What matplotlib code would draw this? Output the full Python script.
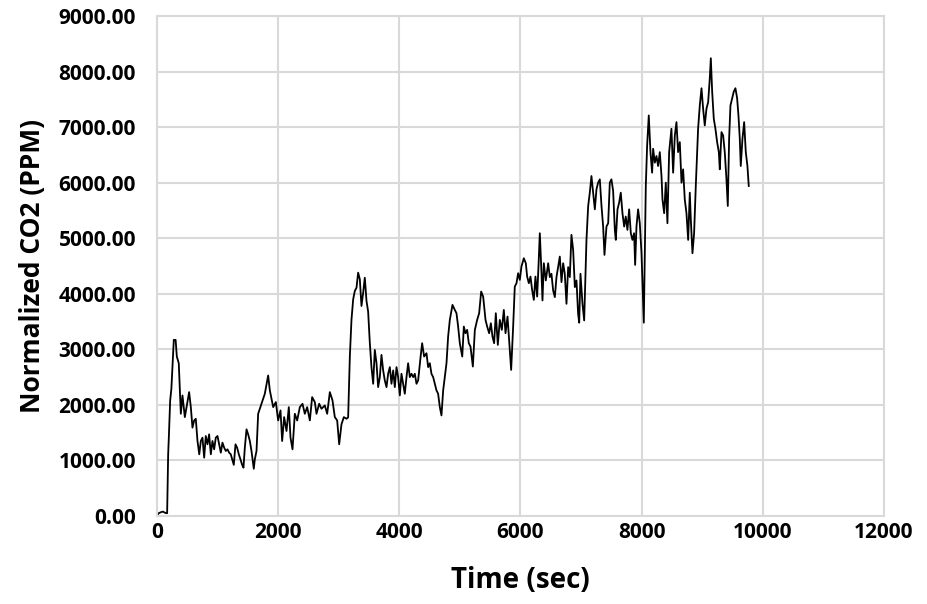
import matplotlib
matplotlib.use("Agg")
import matplotlib.pyplot as plt
from matplotlib.ticker import FormatStrFormatter

# time (sec) and normalized CO2 (PPM)
time_sec = [
    0, 30, 60, 100, 140, 170, 187, 200, 220, 240, 260, 280, 310, 330, 362, 396,
    423, 462, 500, 533, 561, 588, 616, 643, 671, 700, 726, 753, 781, 808, 836,
    863, 891, 918, 946, 973, 1001, 1028, 1056, 1083, 1111, 1138, 1166, 1193,
    1220, 1270, 1298, 1325, 1353, 1380, 1408, 1430, 1452, 1480, 1507, 1535,
    1562, 1600, 1617, 1645, 1672, 1727, 1782, 1837, 1865, 1920, 1964, 2002,
    2041, 2068, 2101, 2140, 2178, 2206, 2239, 2277, 2316, 2360, 2404, 2442,
    2481, 2525, 2563, 2607, 2635, 2679, 2717, 2772, 2811, 2855, 2899, 2937,
    2976, 3009, 3047, 3086, 3130, 3157, 3185, 3212, 3240, 3267, 3295, 3322,
    3350, 3377, 3405, 3432, 3460, 3487, 3515, 3542, 3570, 3597, 3625, 3652,
    3680, 3707, 3735, 3762, 3790, 3817, 3845, 3872, 3900, 3927, 3955, 3982,
    4010, 4037, 4065, 4092, 4120, 4147, 4175, 4202, 4230, 4257, 4285, 4312,
    4356, 4378, 4411, 4450, 4477, 4505, 4532, 4560, 4587, 4615, 4642, 4670,
    4697, 4725, 4780, 4807, 4835, 4879, 4917, 4945, 4972, 5000, 5040, 5066,
    5093, 5121, 5148, 5176, 5215, 5248, 5286, 5319, 5352, 5385, 5424, 5451,
    5484, 5512, 5539, 5566, 5594, 5627, 5660, 5693, 5726, 5754, 5787, 5814,
    5847, 5880, 5907, 5935, 5962, 5990, 6017, 6056, 6089, 6111, 6139, 6166,
    6193, 6221, 6248, 6276, 6298, 6320, 6348, 6364, 6386, 6419, 6458, 6485,
    6512, 6540, 6568, 6595, 6622, 6650, 6678, 6705, 6732, 6760, 6788, 6815,
    6842, 6870, 6898, 6925, 6952, 6970, 6991, 7024, 7052, 7090, 7118, 7145,
    7172, 7200, 7228, 7255, 7282, 7310, 7338, 7365, 7387, 7420, 7448, 7475,
    7502, 7530, 7558, 7574, 7602, 7629, 7656, 7684, 7712, 7738, 7766, 7794,
    7822, 7848, 7876, 7893, 7915, 7942, 7970, 7998, 8036, 8069, 8091, 8118,
    8146, 8173, 8190, 8218, 8245, 8272, 8300, 8328, 8344, 8372, 8399, 8426,
    8454, 8492, 8520, 8548, 8575, 8602, 8630, 8658, 8685, 8712, 8740, 8768,
    8795, 8812, 8839, 8866, 8894, 8932, 8960, 8988, 9015, 9042, 9070, 9098,
    9125, 9142, 9164, 9191, 9218, 9246, 9274, 9290, 9318, 9345, 9372, 9400,
    9422, 9444, 9466, 9494, 9521, 9548, 9576, 9598, 9620, 9636, 9664, 9692,
    9719, 9746, 9768,
]
co2_ppm = [
    0, 50, 65, 80, 55, 50, 1110, 1470, 2080, 2290, 2750, 3170, 3170, 2870,
    2750, 1840, 2170, 1780, 2020, 2230, 1960, 1590, 1720, 1750, 1350, 1110,
    1350, 1410, 1050, 1440, 1290, 1470, 1110, 1350, 1200, 1410, 1440, 1290,
    1140, 1320, 1230, 1170, 1200, 1140, 1110, 920, 1290, 1230, 1110, 1020,
    920, 870, 1230, 1560, 1470, 1350, 1170, 850, 1020, 1170, 1840, 2020, 2200,
    2530, 2260, 1960, 2050, 1720, 1900, 1350, 1780, 1530, 1960, 1410, 1200,
    1840, 1720, 1960, 2020, 1840, 1960, 1720, 2140, 2050, 1840, 2020, 1930,
    1990, 1840, 2230, 2080, 1780, 1720, 1290, 1650, 1780, 1750, 1775, 2870,
    3530, 3900, 4050, 4110, 4380, 4260, 3780, 4020, 4290, 3870, 3680, 3110,
    2680, 2380, 2990, 2750, 2320, 2500, 2900, 2620, 2440, 2320, 2560, 2680,
    2380, 2620, 2320, 2680, 2500, 2170, 2560, 2380, 2200, 2500, 2750, 2500,
    2560, 2500, 2560, 2380, 2440, 2900, 3110, 2870, 2930, 2680, 2750, 2560,
    2500, 2380, 2260, 2200, 1960, 1810, 2260, 2750, 3230, 3530, 3800, 3710,
    3650, 3410, 3110, 2870, 3410, 3290, 3350, 3110, 3050, 2690, 3350, 3530,
    3650, 4040, 3950, 3530, 3410, 3290, 3470, 3230, 3110, 3650, 3080, 3530,
    3350, 3710, 3290, 3590, 3170, 2630, 3410, 4130, 4190, 4370, 4250, 4490,
    4640, 4550, 4310, 4190, 4310, 4070, 3890, 4310, 3950, 4490, 5090, 4360,
    3880, 4550, 4240, 4550, 4300, 4360, 4060, 3940, 4300, 4480, 4670, 4210,
    4550, 4360, 3820, 4480, 4300, 5060, 4790, 4120, 4240, 3640, 3480, 4360,
    3820, 3520, 4970, 5580, 5820, 6120, 5820, 5520, 5880, 6000, 6060, 5580,
    5210, 4700, 5210, 5270, 6000, 6060, 5850, 5150, 4970, 5520, 5640, 5820,
    5450, 5210, 5390, 5150, 5520, 5090, 4970, 5090, 4520, 5210, 5520, 5270,
    4730, 3480, 5940, 6670, 7210, 6550, 6180, 6610, 6360, 6480, 6300, 6550,
    6120, 5700, 5450, 6000, 5270, 6550, 6970, 6180, 6850, 7090, 6550, 6730,
    6000, 6240, 5700, 5450, 4970, 5820, 5330, 4730, 5090, 5940, 6970, 7390,
    7700, 7330, 7030, 7330, 7450, 7880, 8240, 7640, 7150, 6970, 6730, 6550,
    6240, 6910, 6850, 6550, 6060, 5580, 6790, 7390, 7520, 7640, 7700, 7520,
    7210, 6790, 6300, 6790, 7090, 6550, 6300, 5940,
]

x_ticks = [0, 2000, 4000, 6000, 8000, 10000, 12000]
y_ticks = [0, 1000, 2000, 3000, 4000, 5000, 6000, 7000, 8000, 9000]

plt.rcParams['font.family'] = ['Open Sans', 'DejaVu Sans']

fig = plt.figure(figsize=(9.28, 6.04), dpi=100)
ax = fig.add_axes([0.169, 0.1457, 0.7836, 0.8278])

ax.plot(time_sec, co2_ppm, color='black', linewidth=1.3)

ax.set_xlim(0, 12000)
ax.set_ylim(0, 9000)
ax.set_xticks(x_ticks)
ax.set_yticks(y_ticks)
ax.yaxis.set_major_formatter(FormatStrFormatter('%.2f'))

ax.grid(True, color='#d9d9d9', linewidth=1.5)
ax.set_axisbelow(True)
for s in ax.spines.values():
    s.set_color('#d9d9d9')
    s.set_linewidth(1.5)
ax.tick_params(axis='y', length=0, labelsize=15, pad=15)
ax.tick_params(axis='x', length=0, labelsize=15, pad=4)
for lab in ax.get_xticklabels() + ax.get_yticklabels():
    lab.set_fontweight('bold')

ax.set_xlabel('Time (sec)', fontsize=20, fontweight='bold', labelpad=17)
ax.set_ylabel('Normalized CO2 (PPM)', fontsize=19, fontweight='bold', labelpad=9)

fig.savefig('out.png', dpi=100)
